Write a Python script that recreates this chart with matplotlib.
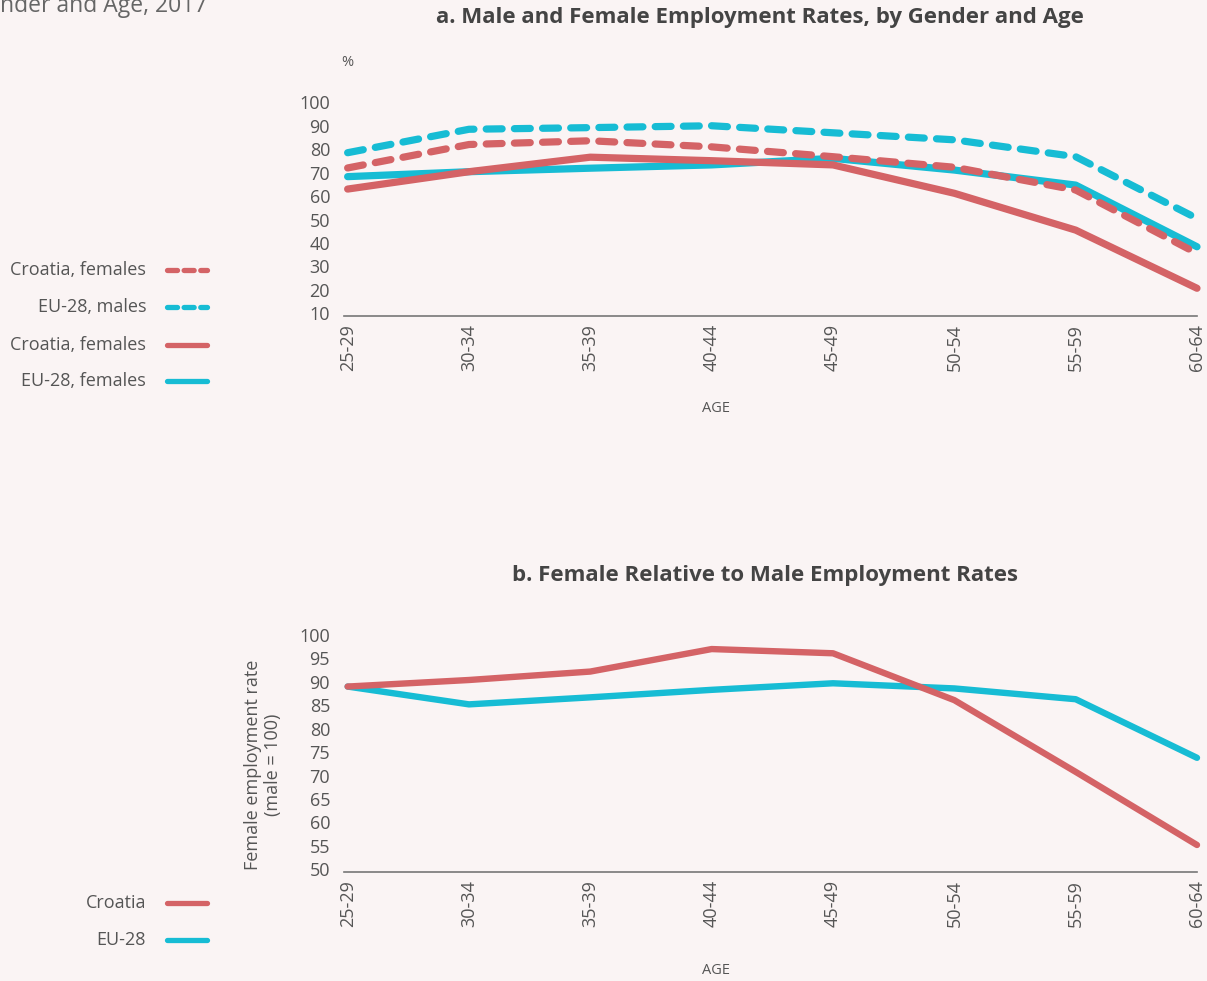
import matplotlib
matplotlib.use("Agg")
import matplotlib.pyplot as plt
from matplotlib.lines import Line2D

plt.rcParams['font.family'] = ['Open Sans', 'DejaVu Sans']

ages = ["25-29", "30-34", "35-39", "40-44", "45-49", "50-54", "55-59", "60-64"]

# Panel a: employment rates (%)
croatia_males = [72.0, 82.0, 83.6, 81.0, 76.8, 72.3, 62.6, 35.6]
eu_males = [78.5, 88.5, 89.2, 90.0, 87.0, 84.0, 76.8, 50.5]
croatia_females = [63.0, 70.4, 76.6, 75.1, 73.3, 61.2, 45.5, 20.7]
eu_females = [68.3, 70.4, 71.9, 73.3, 76.1, 71.1, 64.7, 38.4]

# Panel b: female relative to male (male = 100)
croatia_ratio = [89.0, 90.4, 92.2, 97.0, 96.1, 86.1, 70.8, 55.2]
eu_ratio = [89.0, 85.2, 86.7, 88.3, 89.7, 88.6, 86.3, 73.8]

legend_a = ["Croatia, females", "EU-28, males", "Croatia, females", "EU-28, females"]
legend_b = ["Croatia", "EU-28"]

RED = "#D46366"
CYAN = "#17BCD4"
BG = "#FAF4F4"
TXT = "#555555"
TITLE = "#444444"

W, H = 1207, 981
fig = plt.figure(figsize=(W / 100, H / 100), dpi=100, facecolor=BG)


def fx(px):
    return px / W


def fy(py):
    return 1 - py / H


x = list(range(len(ages)))


def style_axes(ax, ymin, ymax, yticks):
    ax.set_facecolor(BG)
    ax.set_xlim(-0.03, 7)
    ax.set_ylim(ymin, ymax)
    for s in ["top", "right", "left"]:
        ax.spines[s].set_visible(False)
    ax.spines["bottom"].set_color("#777777")
    ax.spines["bottom"].set_linewidth(1.2)
    ax.set_yticks(yticks)
    ax.set_yticklabels([str(t) for t in yticks])
    ax.set_xticks(x)
    ax.set_xticklabels(ages, rotation=90)
    ax.tick_params(axis="both", length=0, labelsize=13, colors=TXT)
    ax.tick_params(axis="x", pad=6)
    ax.tick_params(axis="y", pad=10)


# ---------- Panel a ----------
ax1 = fig.add_axes([fx(344), fy(315.7), fx(1197 - 344), (315.7 - 102.3) / H])
style_axes(ax1, 9, 100, [10, 20, 30, 40, 50, 60, 70, 80, 90, 100])
lw = 5.2
dash = (2.2, 1.7)
ax1.plot(x, eu_females, color=CYAN, lw=lw, solid_capstyle="round", solid_joinstyle="round", clip_on=False)
ax1.plot(x, croatia_females, color=RED, lw=lw, solid_capstyle="round", solid_joinstyle="round", clip_on=False)
ax1.plot(x, eu_males, color=CYAN, lw=lw, dashes=dash, dash_capstyle="round", dash_joinstyle="round", clip_on=False)
ax1.plot(x, croatia_males, color=RED, lw=lw, dashes=dash, dash_capstyle="round", dash_joinstyle="round", clip_on=False)

fig.text(fx(347), fy(62), "%", fontsize=10.5, color=TXT, ha="center", va="center")
fig.text(fx(760), fy(18), "a. Male and Female Employment Rates, by Gender and Age",
         fontsize=16, fontweight="bold", color=TITLE, ha="center", va="center")
fig.text(fx(716), fy(409), "AGE", fontsize=10.5, color=TXT, ha="center", va="center")

# ---------- Panel b ----------
ax2 = fig.add_axes([fx(344), fy(871.7), fx(1197 - 344), (871.7 - 635) / H])
style_axes(ax2, 49.5, 100, [50, 55, 60, 65, 70, 75, 80, 85, 90, 95, 100])
lw2 = 4.6
ax2.plot(x, eu_ratio, color=CYAN, lw=lw2, solid_capstyle="round", solid_joinstyle="round", clip_on=False)
ax2.plot(x, croatia_ratio, color=RED, lw=lw2, solid_capstyle="round", solid_joinstyle="round", clip_on=False)

fig.text(fx(765), fy(575), "b. Female Relative to Male Employment Rates",
         fontsize=16, fontweight="bold", color=TITLE, ha="center", va="center")
fig.text(fx(716), fy(971), "AGE", fontsize=10.5, color=TXT, ha="center", va="center")
fig.text(fx(263), fy(765), "Female employment rate\n(male = 100)", fontsize=13, color=TXT,
         ha="center", va="center", rotation=90, linespacing=1.2)

# ---------- Top-left clipped caption ----------
fig.text(fx(207), fy(12), "Employment Rates, by Gender and Age, 2017", fontsize=16.5,
         color="#666666", ha="right", va="baseline")

# ---------- Legends ----------
leg_a_rows = [270, 307, 345, 381]
leg_a_styles = [(RED, True), (CYAN, True), (RED, False), (CYAN, False)]
for label, py, (col, dashed) in zip(legend_a, leg_a_rows, leg_a_styles):
    fig.text(fx(146), fy(py), label, fontsize=13, color=TXT, ha="right", va="center")
    kw = dict(color=col, lw=3.8, transform=fig.transFigure)
    if dashed:
        ln = Line2D([fx(167), fx(207)], [fy(py), fy(py)], dashes=(1.9, 1.25),
                    dash_capstyle="round", **kw)
    else:
        ln = Line2D([fx(167), fx(207)], [fy(py), fy(py)], solid_capstyle="round", **kw)
    fig.add_artist(ln)

leg_b_rows = [903, 940]
for label, py, col in zip(legend_b, leg_b_rows, [RED, CYAN]):
    fig.text(fx(146), fy(py), label, fontsize=13, color=TXT, ha="right", va="center")
    fig.add_artist(Line2D([fx(167), fx(207)], [fy(py), fy(py)], color=col, lw=3.8,
                          solid_capstyle="round", transform=fig.transFigure))

fig.savefig("out.png", dpi=100, facecolor=BG)
